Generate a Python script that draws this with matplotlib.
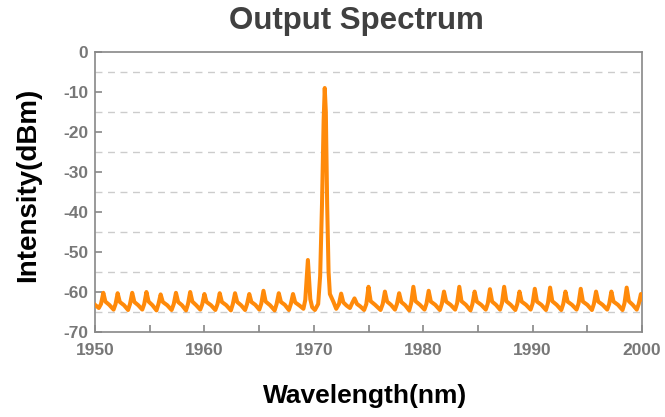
#!/usr/bin/env python

import matplotlib
matplotlib.use('Agg')
import matplotlib.pyplot as plt

# trace (wavelength in nm, intensity in dBm)
wavelength = [
	1950.0, 1950.35, 1950.55, 1950.76, 1950.95, 1951.3, 1951.7, 1951.88,
	1952.07, 1952.27, 1952.65, 1953.02, 1953.2, 1953.4, 1953.6, 1953.95,
	1954.32, 1954.5, 1954.7, 1954.9, 1955.25, 1955.62, 1955.8, 1956.0,
	1956.2, 1956.6, 1957.0, 1957.2, 1957.4, 1957.6, 1957.95, 1958.32,
	1958.5, 1958.7, 1958.9, 1959.25, 1959.62, 1959.8, 1960.0, 1960.2,
	1960.6, 1961.0, 1961.2, 1961.4, 1961.6, 1962.0, 1962.42, 1962.6,
	1962.8, 1963.0, 1963.35, 1963.72, 1963.9, 1964.1, 1964.3, 1964.65,
	1965.02, 1965.2, 1965.4, 1965.6, 1966.0, 1966.42, 1966.6, 1966.8,
	1967.0, 1967.35, 1967.72, 1967.9, 1968.1, 1968.3, 1968.7, 1969.05,
	1969.22, 1969.46, 1969.68, 1969.85, 1970.1, 1970.4, 1970.58, 1970.75,
	1970.9, 1971.0, 1971.1, 1971.22, 1971.35, 1971.47, 1971.6, 1971.8,
	1972.05, 1972.3, 1972.5, 1972.7, 1973.0, 1973.3, 1973.5, 1973.72,
	1973.95, 1974.25, 1974.6, 1974.8, 1975.0, 1975.2, 1975.6, 1976.1,
	1976.3, 1976.5, 1976.7, 1977.05, 1977.42, 1977.6, 1977.8, 1978.0,
	1978.35, 1978.72, 1978.9, 1979.1, 1979.3, 1979.7, 1980.12, 1980.3,
	1980.5, 1980.7, 1981.1, 1981.52, 1981.7, 1981.9, 1982.1, 1982.5,
	1982.92, 1983.1, 1983.3, 1983.5, 1983.9, 1984.32, 1984.5, 1984.7,
	1984.9, 1985.3, 1985.72, 1985.9, 1986.1, 1986.3, 1986.65, 1987.02,
	1987.2, 1987.4, 1987.6, 1988.0, 1988.42, 1988.6, 1988.8, 1989.0,
	1989.4, 1989.82, 1990.0, 1990.2, 1990.4, 1990.8, 1991.22, 1991.4,
	1991.6, 1991.8, 1992.2, 1992.62, 1992.8, 1993.0, 1993.2, 1993.6,
	1994.02, 1994.2, 1994.4, 1994.6, 1995.0, 1995.42, 1995.6, 1995.8,
	1996.0, 1996.4, 1996.82, 1997.0, 1997.2, 1997.4, 1997.8, 1998.22,
	1998.4, 1998.6, 1998.8, 1999.15, 1999.52, 1999.7, 1999.9, 2000.0,
]
intensity = [
	-63.2, -64.0, -63.0, -60.2, -62.4, -63.2, -64.4, -63.0,
	-60.3, -62.5, -63.3, -64.5, -63.0, -60.2, -62.5, -63.3,
	-64.4, -63.0, -60.0, -62.4, -63.3, -64.6, -63.0, -60.6,
	-62.5, -63.3, -64.5, -63.0, -60.2, -62.5, -63.3, -64.6,
	-63.0, -60.0, -62.4, -63.3, -64.4, -63.1, -60.5, -62.5,
	-63.3, -64.5, -63.0, -60.3, -62.5, -63.3, -64.6, -63.0,
	-60.3, -62.5, -63.3, -64.5, -63.0, -60.5, -62.5, -63.2,
	-64.4, -62.9, -59.7, -62.4, -63.3, -64.6, -63.0, -60.3,
	-62.5, -63.2, -64.5, -63.0, -60.5, -62.6, -63.4, -64.2,
	-62.0, -52.0, -61.8, -63.8, -64.5, -63.0, -56.0, -38.0,
	-17.0, -9.0, -15.0, -38.0, -55.0, -60.5, -61.3, -62.5,
	-64.2, -63.0, -60.4, -62.6, -63.4, -64.0, -62.8, -61.6,
	-63.0, -63.6, -64.5, -63.0, -58.7, -62.3, -63.2, -64.5,
	-63.0, -59.9, -62.4, -63.2, -64.4, -63.0, -60.3, -62.5,
	-63.3, -64.6, -62.8, -58.7, -62.3, -63.2, -64.4, -62.9,
	-59.7, -62.4, -63.2, -64.5, -63.0, -59.9, -62.4, -63.2,
	-64.4, -62.8, -58.7, -62.3, -63.2, -64.6, -63.0, -59.9,
	-62.4, -63.2, -64.4, -62.9, -59.3, -62.4, -63.2, -64.4,
	-62.8, -58.7, -62.3, -63.2, -64.5, -63.0, -59.9, -62.4,
	-63.2, -64.4, -62.9, -59.2, -62.4, -63.2, -64.5, -62.8,
	-58.9, -62.3, -63.2, -64.5, -63.0, -59.9, -62.4, -63.2,
	-64.4, -62.9, -59.2, -62.4, -63.2, -64.5, -63.0, -59.9,
	-62.4, -63.2, -64.4, -63.0, -59.9, -62.4, -63.2, -64.5,
	-62.8, -58.9, -62.3, -63.2, -64.4, -63.0, -60.5, -61.8,
]

x_ticks = [1950, 1960, 1970, 1980, 1990, 2000]
y_ticks = [0, -10, -20, -30, -40, -50, -60, -70]
grid_levels = [-5, -15, -25, -35, -45, -55, -65]

def main():
	plt.rcParams['font.family'] = ['Liberation Sans', 'DejaVu Sans']
	plt.rcParams['axes.unicode_minus'] = False

	fig = plt.figure(figsize=(6.65, 4.17), dpi=100)
	ax = fig.add_axes([95 / 665, 85 / 417, 547 / 665, 280 / 417])

	for g in grid_levels:
		ax.axhline(g, color='#cccccc', lw=1.0, dashes=(5, 4), zorder=1)

	ax.plot(wavelength, intensity, color='#ff8a0a', lw=2.9, solid_joinstyle='round', zorder=3)

	ax.set_xlim(1950, 2000)
	ax.set_ylim(-70, 0)
	ax.set_xticks(x_ticks)
	ax.set_xticks(range(1950, 2001, 5), minor=True)
	ax.set_yticks(y_ticks)

	for s in ax.spines.values():
		s.set_color('#888888')
		s.set_linewidth(1.2)

	ax.tick_params(axis='both', which='both', direction='in', color='#888888', width=1.2)
	ax.tick_params(axis='both', which='major', length=5, labelsize=12.5, labelcolor='#777777', pad=5)
	ax.tick_params(axis='x', which='major', pad=8)
	ax.tick_params(axis='x', which='minor', length=5)
	for lbl in ax.get_xticklabels() + ax.get_yticklabels():
		lbl.set_fontweight('bold')

	fig.text(356 / 665, 1 - 21 / 417, 'Output Spectrum', ha='center', va='center',
		fontsize=22.5, fontweight='bold', color='#404040')
	fig.text(365 / 665, 1 - 396 / 417, 'Wavelength(nm)', ha='center', va='center',
		fontsize=19, fontweight='bold', color='black')
	fig.text(28 / 665, 1 - 185 / 417, 'Intensity(dBm)', ha='center', va='center',
		rotation=90, fontsize=20, fontweight='bold', color='black')

	fig.savefig('out.png', dpi=100)

if __name__ == "__main__":
	main()
